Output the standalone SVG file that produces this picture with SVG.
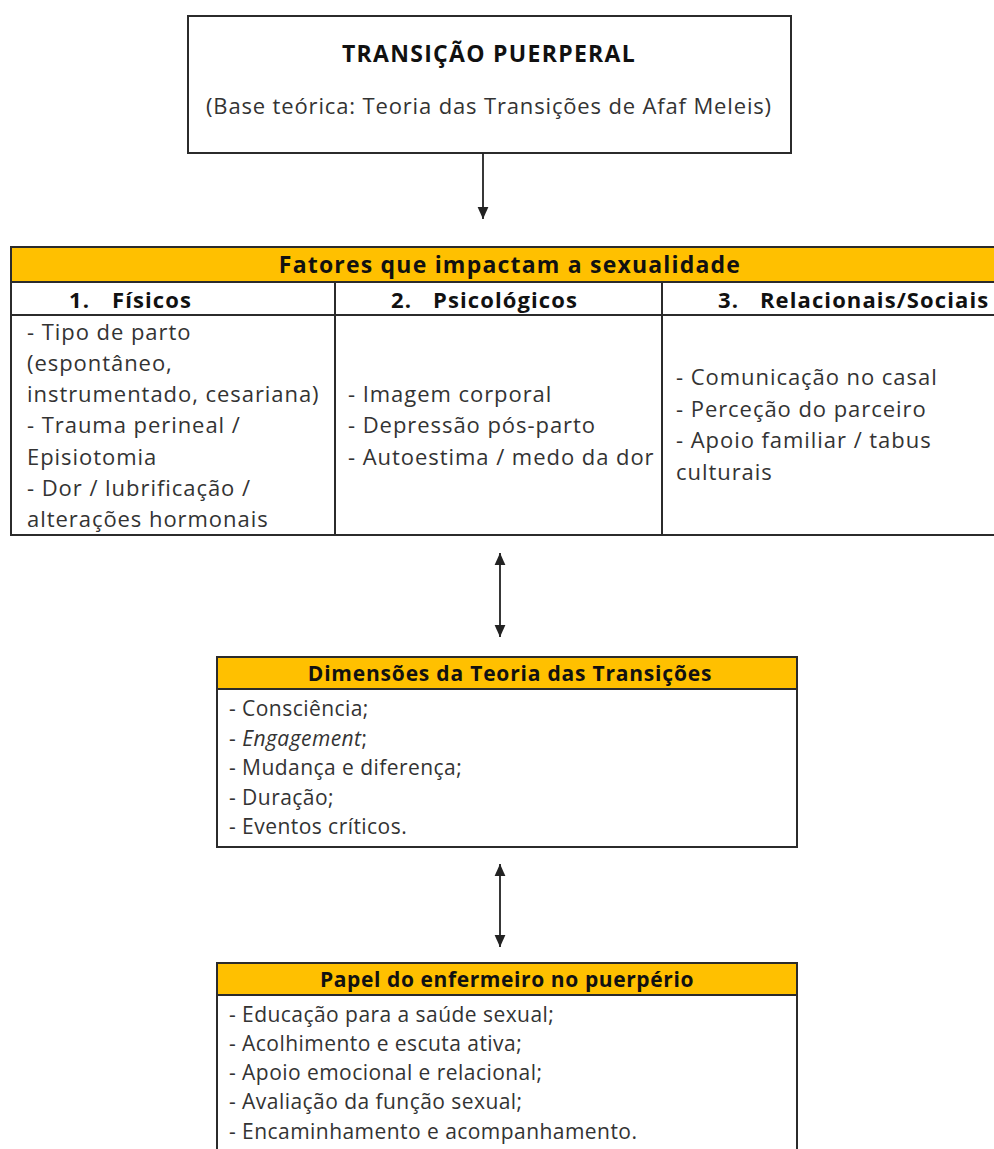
<svg xmlns="http://www.w3.org/2000/svg" width="994" height="1149" viewBox="0 0 994 1149">
<style>
.box{fill:#fff;stroke:#2b2b2b;stroke-width:2}
.hdr{fill:#FFC000;stroke:#2b2b2b;stroke-width:2}
.ln{stroke:#2b2b2b;stroke-width:2;fill:none}
.t{font-family:"Open Sans","Liberation Sans",sans-serif;font-size:22px;fill:#333;letter-spacing:0.95px}
.s{font-family:"Open Sans","Liberation Sans",sans-serif;font-size:21px;fill:#333;letter-spacing:0.45px}
.b{font-family:"Open Sans","Liberation Sans",sans-serif;font-size:22px;font-weight:bold;fill:#111;letter-spacing:1.1px}
.h{font-family:"Open Sans","Liberation Sans",sans-serif;font-size:21px;font-weight:bold;fill:#111;letter-spacing:0.6px}
.c{text-anchor:middle}
.conn{stroke:#222;stroke-width:1.8;fill:none}
</style>
<defs>
<marker id="ah" viewBox="0 0 10 10" refX="10" refY="5" markerWidth="12" markerHeight="12" markerUnits="userSpaceOnUse" orient="auto-start-reverse">
<path d="M0,0.5 L10,5 L0,9.5 z" fill="#222"/>
</marker>
</defs>
<rect width="994" height="1149" fill="#fff"/>

<g id="transicao">
<rect class="box" x="188" y="16" width="603" height="137"/>
<text class="b c" x="489" y="62" style="font-size:23px;letter-spacing:1.3px">TRANSIÇÃO PUERPERAL</text>
<text class="t c" x="489" y="114" style="letter-spacing:0.85px">(Base teórica: Teoria das Transições de Afaf Meleis)</text>
</g>

<g id="fatores">
<rect class="box" x="11" y="247" width="998" height="288"/>
<rect class="hdr" x="11" y="247" width="998" height="35"/>
<line class="ln" x1="11" y1="315" x2="1009" y2="315"/>
<line class="ln" x1="335" y1="282" x2="335" y2="535"/>
<line class="ln" x1="662" y1="282" x2="662" y2="535"/>
<text class="b c" x="510" y="273" style="font-size:23px;letter-spacing:1.2px">Fatores que impactam a sexualidade</text>
<text class="b" x="69" y="308">1.</text><text class="b" x="112" y="308">Físicos</text>
<text class="b" x="391" y="308">2.</text><text class="b" x="433" y="308">Psicológicos</text>
<text class="b" x="718" y="308">3.</text><text class="b" x="760" y="308">Relacionais/Sociais</text>
<text class="t" x="27" y="340">- Tipo de parto</text>
<text class="t" x="27" y="371">(espontâneo,</text>
<text class="t" x="27" y="402">instrumentado, cesariana)</text>
<text class="t" x="27" y="433">- Trauma perineal /</text>
<text class="t" x="27" y="465">Episiotomia</text>
<text class="t" x="27" y="496">- Dor / lubrificação /</text>
<text class="t" x="27" y="527">alterações hormonais</text>
<text class="t" x="348" y="402">- Imagem corporal</text>
<text class="t" x="348" y="433">- Depressão pós-parto</text>
<text class="t" x="348" y="465">- Autoestima / medo da dor</text>
<text class="t" x="676" y="385">- Comunicação no casal</text>
<text class="t" x="676" y="417">- Perceção do parceiro</text>
<text class="t" x="676" y="448">- Apoio familiar / tabus</text>
<text class="t" x="676" y="480">culturais</text>
</g>

<g id="dimensoes">
<rect class="box" x="217" y="657" width="580" height="190"/>
<rect class="hdr" x="217" y="657" width="580" height="32"/>
<text class="h c" x="510" y="681" style="letter-spacing:0.8px">Dimensões da Teoria das Transições</text>
<text class="s" x="229" y="716">- Consciência;</text>
<text class="s" x="229" y="745.5">- <tspan font-style="italic">Engagement</tspan>;</text>
<text class="s" x="229" y="775">- Mudança e diferença;</text>
<text class="s" x="229" y="804.5">- Duração;</text>
<text class="s" x="229" y="834">- Eventos críticos.</text>
</g>

<g id="papel">
<rect class="box" x="217" y="963" width="580" height="200"/>
<rect class="hdr" x="217" y="963" width="580" height="32"/>
<text class="h c" x="507" y="987">Papel do enfermeiro no puerpério</text>
<text class="s" x="229" y="1022">- Educação para a saúde sexual;</text>
<text class="s" x="229" y="1051">- Acolhimento e escuta ativa;</text>
<text class="s" x="229" y="1080">- Apoio emocional e relacional;</text>
<text class="s" x="229" y="1109">- Avaliação da função sexual;</text>
<text class="s" x="229" y="1139">- Encaminhamento e acompanhamento.</text>
</g>

<g id="connectors">
<line class="conn" x1="483" y1="153" x2="483" y2="219" marker-end="url(#ah)"/>
<line class="conn" x1="500" y1="553" x2="500" y2="637" marker-start="url(#ah)" marker-end="url(#ah)"/>
<line class="conn" x1="500" y1="864" x2="500" y2="947" marker-start="url(#ah)" marker-end="url(#ah)"/>
</g>
</svg>
